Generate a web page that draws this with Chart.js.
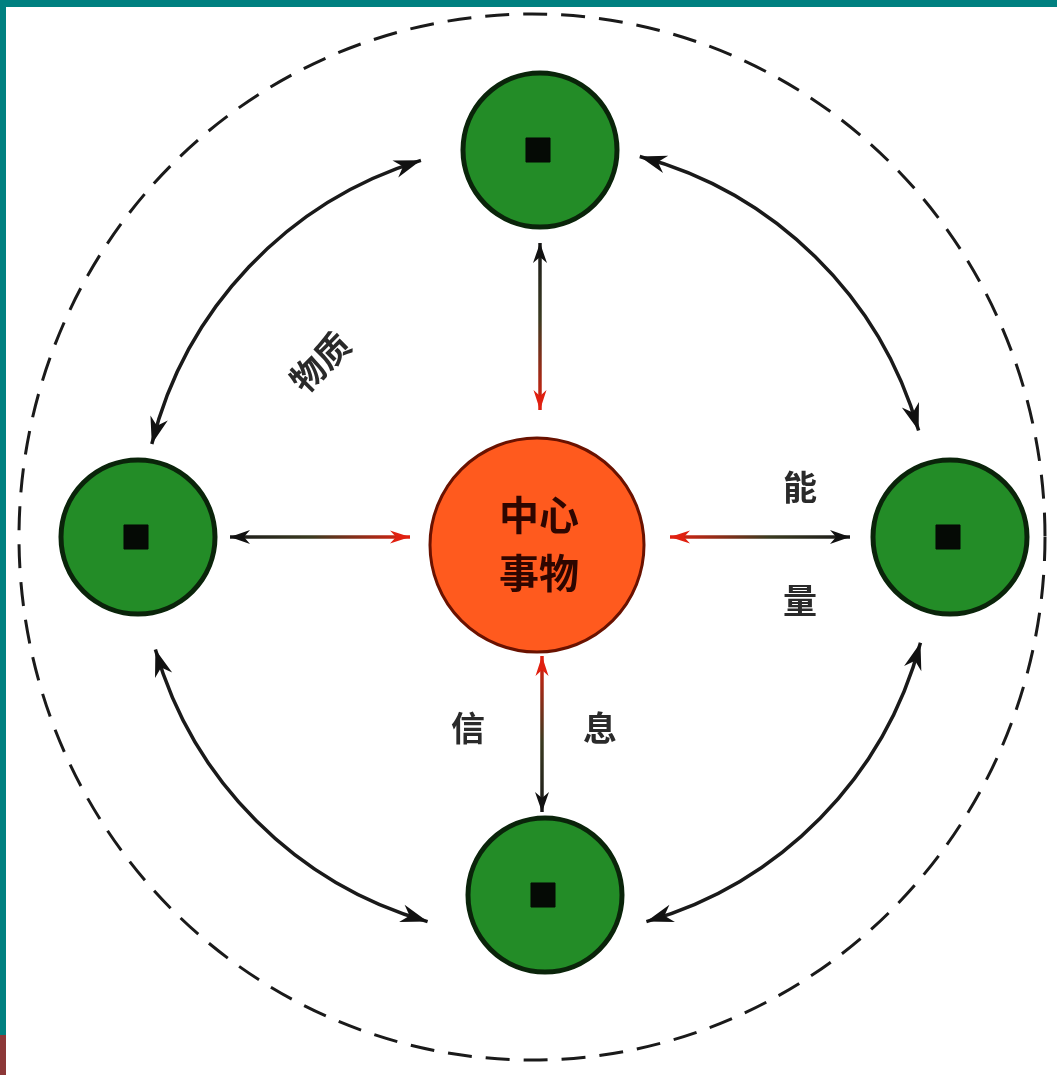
<!DOCTYPE html>
<html>
<head>
<meta charset="utf-8">
<script src="https://cdn.jsdelivr.net/npm/chart.js@4.4.1/dist/chart.umd.min.js"></script>
<style>
html,body{margin:0;padding:0;background:#fff;}
#wrap{width:1057px;height:1075px;position:relative;}
</style>
</head>
<body>
<div id="wrap"><canvas id="c" width="1057" height="1075"></canvas></div>
<script>
// ---- data ----
const centerLabels = ['中心', '事物'];
const satelliteNodes = ['上', '右', '下', '左'];
const flowLabels = ['物质', '能量', '信息'];

// ---- layout (pixel-space units of the hidden scales) ----
const layout = {
  center: {x: 537, y: 545},
  satellites: [{x: 540, y: 150}, {x: 950, y: 537}, {x: 545, y: 895}, {x: 138, y: 537}],
  straight: [
    {a: {x: 540, y: 243}, b: {x: 540, y: 410}},  // top: black at a, red at b
    {a: {x: 850, y: 537}, b: {x: 670, y: 537}},  // right
    {a: {x: 542, y: 812}, b: {x: 542, y: 656}},  // bottom
    {a: {x: 230, y: 537}, b: {x: 410, y: 537}}   // left
  ],
  arcCenter: {x: 537, y: 540}, arcR: 397,
  arcs: [[-107, -166], [-75, -16], [15, 74], [106, 164]],
  labels: [
    {text: flowLabels[0], x: 320, y: 362, rot: -45},
    {text: flowLabels[1][0], x: 800, y: 487, rot: 0},
    {text: flowLabels[1][1], x: 800, y: 600, rot: 0},
    {text: flowLabels[2][0], x: 468, y: 728, rot: 0},
    {text: flowLabels[2][1], x: 600, y: 728, rot: 0}
  ]
};

function arrowHead(ctx, x, y, ang, len, w, color) {
  ctx.save();
  ctx.translate(x, y);
  ctx.rotate(ang);
  ctx.beginPath();
  ctx.moveTo(0, 0);
  ctx.lineTo(-len, -w / 2);
  ctx.lineTo(-len * 0.7, 0);
  ctx.lineTo(-len, w / 2);
  ctx.closePath();
  ctx.fillStyle = color;
  ctx.fill();
  ctx.restore();
}

const diagramPlugin = {
  id: 'diagram',
  beforeDatasetsDraw(chart) {
    const ctx = chart.ctx;
    const xs = chart.scales.x, ys = chart.scales.y;
    const P = p => ({x: xs.getPixelForValue(p.x), y: ys.getPixelForValue(p.y)});
    ctx.save();
    // frame
    ctx.fillStyle = '#008080';
    ctx.fillRect(0, 0, chart.width, 7);
    ctx.fillRect(0, 0, 6, 1035);
    ctx.fillStyle = '#8c3838';
    ctx.fillRect(0, 1035, 6, 40);

    // dashed outer ellipse
    const oc = P({x: 532, y: 537});
    ctx.beginPath();
    ctx.setLineDash([24, 14]);
    ctx.lineWidth = 3;
    ctx.strokeStyle = '#1a1a1a';
    ctx.ellipse(oc.x, oc.y, 513, 523, 0, 0, Math.PI * 2);
    ctx.stroke();
    ctx.setLineDash([]);

    // straight double arrows
    layout.straight.forEach(s => {
      const a = P(s.a), b = P(s.b);
      const g = ctx.createLinearGradient(a.x, a.y, b.x, b.y);
      g.addColorStop(0, '#1a1a1a');
      g.addColorStop(0.45, '#3a3a20');
      g.addColorStop(1, '#e02010');
      ctx.beginPath();
      ctx.moveTo(a.x, a.y);
      ctx.lineTo(b.x, b.y);
      ctx.lineWidth = 3.5;
      ctx.strokeStyle = g;
      ctx.stroke();
      const ang = Math.atan2(a.y - b.y, a.x - b.x);
      arrowHead(ctx, a.x, a.y, ang, 20, 14, '#111');
      arrowHead(ctx, b.x, b.y, ang + Math.PI, 20, 13, '#e02010');
    });

    // curved double arrows
    const ac = P(layout.arcCenter);
    const R = layout.arcR;
    layout.arcs.forEach(([d1, d2]) => {
      const t1 = d1 * Math.PI / 180, t2 = d2 * Math.PI / 180;
      ctx.beginPath();
      ctx.arc(ac.x, ac.y, R, Math.min(t1, t2), Math.max(t1, t2));
      ctx.lineWidth = 3.5;
      ctx.strokeStyle = '#1a1a1a';
      ctx.stroke();
      [[t1, t2], [t2, t1]].forEach(([t, o]) => {
        const x = ac.x + R * Math.cos(t), y = ac.y + R * Math.sin(t);
        const dir = t > o ? 1 : -1;
        const ang = t + dir * Math.PI / 2 - dir * 0.03;
        arrowHead(ctx, x, y, ang, 27, 18, '#111');
      });
    });

    // flow labels
    ctx.fillStyle = '#2a2a2a';
    ctx.textAlign = 'center';
    ctx.textBaseline = 'middle';
    layout.labels.forEach(l => {
      const p = P(l);
      ctx.save();
      ctx.translate(p.x, p.y);
      ctx.rotate(l.rot * Math.PI / 180);
      ctx.font = 'bold 34px "Noto Sans CJK SC"';
      ctx.fillText(l.text, 0, 0);
      ctx.restore();
    });
    ctx.restore();
  },
  afterDatasetsDraw(chart) {
    const ctx = chart.ctx;
    const xs = chart.scales.x, ys = chart.scales.y;
    const c = {x: xs.getPixelForValue(layout.center.x), y: ys.getPixelForValue(layout.center.y)};
    ctx.save();
    ctx.fillStyle = '#2e0600';
    ctx.textAlign = 'center';
    ctx.textBaseline = 'middle';
    ctx.font = 'bold 40px "Noto Sans CJK SC"';
    ctx.fillText(centerLabels[0], c.x + 2, c.y - 30);
    ctx.fillText(centerLabels[1], c.x + 2, c.y + 28);
    ctx.restore();
  }
};

new Chart(document.getElementById('c'), {
  type: 'scatter',
  data: {
    datasets: [
      {
        label: '中心事物',
        data: [{x: layout.center.x, y: layout.center.y}],
        pointRadius: 107,
        backgroundColor: '#ff5a1e',
        borderColor: '#6a1200',
        borderWidth: 3,
        clip: false,
        order: 2
      },
      {
        label: 'satellites',
        data: satelliteNodes.map((n, i) => ({x: layout.satellites[i].x, y: layout.satellites[i].y, name: n})),
        pointRadius: 77,
        backgroundColor: '#238c27',
        borderColor: '#0a240a',
        borderWidth: 5,
        clip: false,
        order: 2
      },
      {
        label: 'marks',
        data: satelliteNodes.map((n, i) => ({x: layout.satellites[i].x - 2, y: layout.satellites[i].y, name: n})),
        pointStyle: 'rect',
        pointRadius: 17,
        backgroundColor: '#050a05',
        borderColor: '#050a05',
        borderWidth: 1,
        clip: false,
        order: 0
      }
    ]
  },
  options: {
    responsive: false,
    animation: false,
    events: [],
    layout: {padding: 0, autoPadding: false},
    plugins: {legend: {display: false}, tooltip: {enabled: false}},
    scales: {
      x: {type: 'linear', min: 0, max: 1057, display: false},
      y: {type: 'linear', min: 0, max: 1075, reverse: true, display: false}
    }
  },
  plugins: [diagramPlugin]
});
</script>
</body>
</html>
